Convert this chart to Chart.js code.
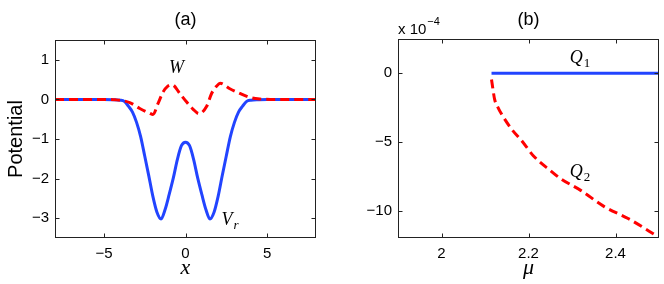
<!DOCTYPE html>
<html>
<head>
<meta charset="utf-8">
<script src="https://cdn.jsdelivr.net/npm/chart.js@4.4.0/dist/chart.umd.min.js"></script>
<style>
  html, body { margin: 0; padding: 0; background: #fff; }
  #wrap { position: relative; width: 664px; height: 284px; }
  .pane { position: absolute; top: 0; width: 332px; height: 284px; }
</style>
</head>
<body>
<div id="wrap">
  <div class="pane" style="left:0"><canvas id="chartA"></canvas></div>
  <div class="pane" style="left:332px"><canvas id="chartB"></canvas></div>
</div>
<script>
// ----------------------------
// DATA  (panel a: potentials, panel b: Q vs mu, in units of 1e-4)
// ----------------------------
const vrX = [-8, -6, -5, -4.5, -4, -3.75, -3.5, -3.25, -3, -2.75, -2.5, -2.25, -2, -1.75, -1.5, -1.25, -1, -0.75, -0.5, -0.25,
             0, 0.25, 0.5, 0.75, 1, 1.25, 1.5, 1.75, 2, 2.25, 2.5, 2.75, 3, 3.25, 3.5, 3.75, 4, 4.5, 5, 6, 8];
const vrY = [0, 0, -0.003, -0.008, -0.02, -0.05, -0.17, -0.32, -0.58, -0.94, -1.43, -1.93, -2.45, -2.85, -3.02, -2.78, -2.4, -1.99, -1.52, -1.17,
             -1.08, -1.17, -1.52, -1.99, -2.4, -2.78, -3.02, -2.85, -2.45, -1.93, -1.43, -0.94, -0.58, -0.32, -0.17, -0.05, -0.02, -0.008, -0.003, 0, 0];

const wX = [-8, -5, -4.3, -3.42, -2.8, -2.19, -2.0, -1.68, -1.37, -1.1, -0.82, -0.35, 0.06, 0.47, 0.83, 1.29, 1.6, 1.9, 2.12, 2.72, 3.33, 3.94, 4.56, 5.2, 8];
const wY = [0, 0, -0.01, -0.08, -0.23, -0.35, -0.38, -0.1, 0.19, 0.33, 0.37, 0.15, -0.06, -0.25, -0.36, -0.18, 0.15, 0.33, 0.41, 0.27, 0.15, 0.05, 0.01, 0, 0];

const q1Mu = [2.115, 2.5];
const q1Val = [0, 0];

const q2Mu = [2.115, 2.118, 2.122, 2.13, 2.138, 2.161, 2.184, 2.211, 2.25, 2.274, 2.32, 2.375, 2.429, 2.5];
const q2Val = [-0.45, -1.1, -1.88, -2.5, -2.97, -4.06, -4.9, -6.0, -7.08, -7.68, -8.53, -9.73, -10.58, -11.95];

// tick labels
const xTicksA = [-5, 0, 5];
const yTicksA = [-3, -2, -1, 0, 1];
const xTicksB = [2, 2.2, 2.4];
const yTicksB = [-10, -5, 0];

const BLUE = 'rgb(34,68,255)';
const RED = '#ff0000';
const SANS = '"Liberation Sans", Arial, sans-serif';
const SERIF = '"Liberation Serif", "Times New Roman", serif';

function pts(xs, ys) {
  return xs.map((x, i) => ({ x: x, y: ys[i] }));
}

function fmt(v) {
  return v < 0 ? '\u2212' + String(Math.abs(v)) : String(v);
}

// ----------------------------
// PLUGINS: box with inward ticks, titles and curve labels
// ----------------------------
const framePlugin = {
  id: 'frame',
  afterDatasetsDraw(chart) {
    const { ctx, chartArea: a, scales } = chart;
    const L = Math.round(a.left) + 0.5, R = Math.round(a.right) - 0.5;
    const T = Math.round(a.top) + 0.5, B = Math.round(a.bottom) - 0.5;
    ctx.save();
    ctx.strokeStyle = '#222';
    ctx.lineWidth = 1;
    ctx.strokeRect(L, T, R - L, B - T);
    ctx.beginPath();
    scales.x.ticks.forEach(t => {
      const px = Math.round(scales.x.getPixelForValue(t.value)) + 0.5;
      ctx.moveTo(px, B); ctx.lineTo(px, B - 4);
      ctx.moveTo(px, T); ctx.lineTo(px, T + 4);
    });
    scales.y.ticks.forEach(t => {
      const py = Math.round(scales.y.getPixelForValue(t.value)) + 0.5;
      ctx.moveTo(L, py); ctx.lineTo(L + 4, py);
      ctx.moveTo(R, py); ctx.lineTo(R - 4, py);
    });
    ctx.stroke();
    ctx.restore();
  }
};

const notesPlugin = {
  id: 'notes',
  afterDraw(chart, args, opts) {
    const { ctx, chartArea: a, scales } = chart;
    ctx.save();
    ctx.fillStyle = '#000';
    // x tick labels, placed from the x scale
    ctx.font = '15px ' + SANS;
    ctx.textAlign = 'center';
    ctx.textBaseline = 'middle';
    scales.x.ticks.forEach(t => {
      ctx.fillText(t.label, scales.x.getPixelForValue(t.value), a.bottom + 16);
    });
    // panel title
    ctx.font = '18px ' + SANS;
    ctx.fillText(opts.title, (a.left + a.right) / 2, 20);
    // curve labels
    (opts.labels || []).forEach(lb => {
      const px = scales.x.getPixelForValue(lb.x);
      const py = scales.y.getPixelForValue(lb.y);
      ctx.font = 'italic 18px ' + SERIF;
      ctx.textAlign = 'center';
      ctx.textBaseline = 'middle';
      ctx.fillText(lb.text, px, py);
      if (lb.sub) {
        const w = ctx.measureText(lb.text).width;
        ctx.font = (lb.subItalic ? 'italic ' : '') + '13px ' + SERIF;
        ctx.textAlign = 'left';
        ctx.fillText(lb.sub, px + w / 2 + 1, py + 5);
      }
    });
    // exponent note
    if (opts.exponent) {
      ctx.font = '15px ' + SANS;
      ctx.textAlign = 'left';
      ctx.textBaseline = 'alphabetic';
      ctx.fillText('x 10', a.left, 34);
      const w = ctx.measureText('x 10').width;
      ctx.font = '11px ' + SANS;
      ctx.fillText(opts.exponent, a.left + w + 1, 25);
    }
    ctx.restore();
  }
};

// ----------------------------
// SHARED SCALE SETUP
// ----------------------------
function makeScales(xr, yr, xt, yt, xTitle, yTitle, yWidth) {
  return {
    x: {
      type: 'linear', min: xr[0], max: xr[1],
      afterBuildTicks: s => { s.ticks = xt.map(v => ({ value: v })); },
      afterFit: s => { s.height = 46; },
      grid: { display: false, drawTicks: false },
      border: { display: false },
      // labels are painted by the notes plugin so nothing can cover them
      ticks: { color: 'rgba(0,0,0,0)', font: { family: SANS, size: 15 }, padding: 8, maxRotation: 0, autoSkip: false, callback: v => fmt(v) },
      title: { display: true, text: xTitle, color: '#000', font: { family: SERIF, size: 22, style: 'italic', lineHeight: 1 }, padding: { top: 0, bottom: 5 } }
    },
    y: {
      type: 'linear', min: yr[0], max: yr[1],
      afterBuildTicks: s => { s.ticks = yt.map(v => ({ value: v })); },
      afterFit: s => { s.width = yWidth; },
      grid: { display: false, drawTicks: false },
      border: { display: false },
      ticks: { color: '#000', font: { family: SANS, size: 15 }, padding: 6, autoSkip: false, callback: v => fmt(v) },
      title: { display: !!yTitle, text: yTitle, color: '#000', font: { family: SANS, size: 20 }, padding: { top: 4, bottom: 0 } }
    }
  };
}

// ----------------------------
// PANEL (a)
// ----------------------------
new Chart(document.getElementById('chartA'), {
  type: 'scatter',
  data: {
    datasets: [
      { label: 'W', data: pts(wX, wY), showLine: true, borderColor: RED, borderWidth: 3, borderDash: [9, 5], pointRadius: 0, cubicInterpolationMode: 'monotone' },
      { label: 'Vr', data: pts(vrX, vrY), showLine: true, borderColor: BLUE, borderWidth: 3, pointRadius: 0, cubicInterpolationMode: 'monotone' }
    ]
  },
  options: {
    responsive: true,
    maintainAspectRatio: false,
    animation: false,
    events: [],
    layout: { padding: { top: 40, right: 16, left: 0, bottom: 0 } },
    scales: makeScales([-8, 8], [-3.5, 1.5], xTicksA, yTicksA, 'x', 'Potential', 55),
    plugins: {
      legend: { display: false },
      tooltip: { enabled: false },
      notes: {
        title: '(a)',
        labels: [
          { text: 'W', x: -0.55, y: 0.78 },
          { text: 'V', sub: 'r', subItalic: true, x: 2.55, y: -3.06 }
        ]
      }
    }
  },
  plugins: [framePlugin, notesPlugin]
});

// ----------------------------
// PANEL (b)
// ----------------------------
new Chart(document.getElementById('chartB'), {
  type: 'scatter',
  data: {
    datasets: [
      { label: 'Q1', data: pts(q1Mu, q1Val), showLine: true, borderColor: BLUE, borderWidth: 3, pointRadius: 0 },
      { label: 'Q2', data: pts(q2Mu, q2Val), showLine: true, borderColor: RED, borderWidth: 3, borderDash: [9, 5], pointRadius: 0, cubicInterpolationMode: 'monotone' }
    ]
  },
  options: {
    responsive: true,
    maintainAspectRatio: false,
    animation: false,
    events: [],
    layout: { padding: { top: 39, right: 5, left: 0, bottom: 0 } },
    scales: makeScales([1.9, 2.5], [-12, 2.5], xTicksB, yTicksB, '\u03bc', '', 66),
    plugins: {
      legend: { display: false },
      tooltip: { enabled: false },
      notes: {
        title: '(b)',
        exponent: '\u22124',
        labels: [
          { text: 'Q', sub: '1', x: 2.31, y: 1.07 },
          { text: 'Q', sub: '2', x: 2.31, y: -7.2 }
        ]
      }
    }
  },
  plugins: [framePlugin, notesPlugin]
});
</script>
</body>
</html>
